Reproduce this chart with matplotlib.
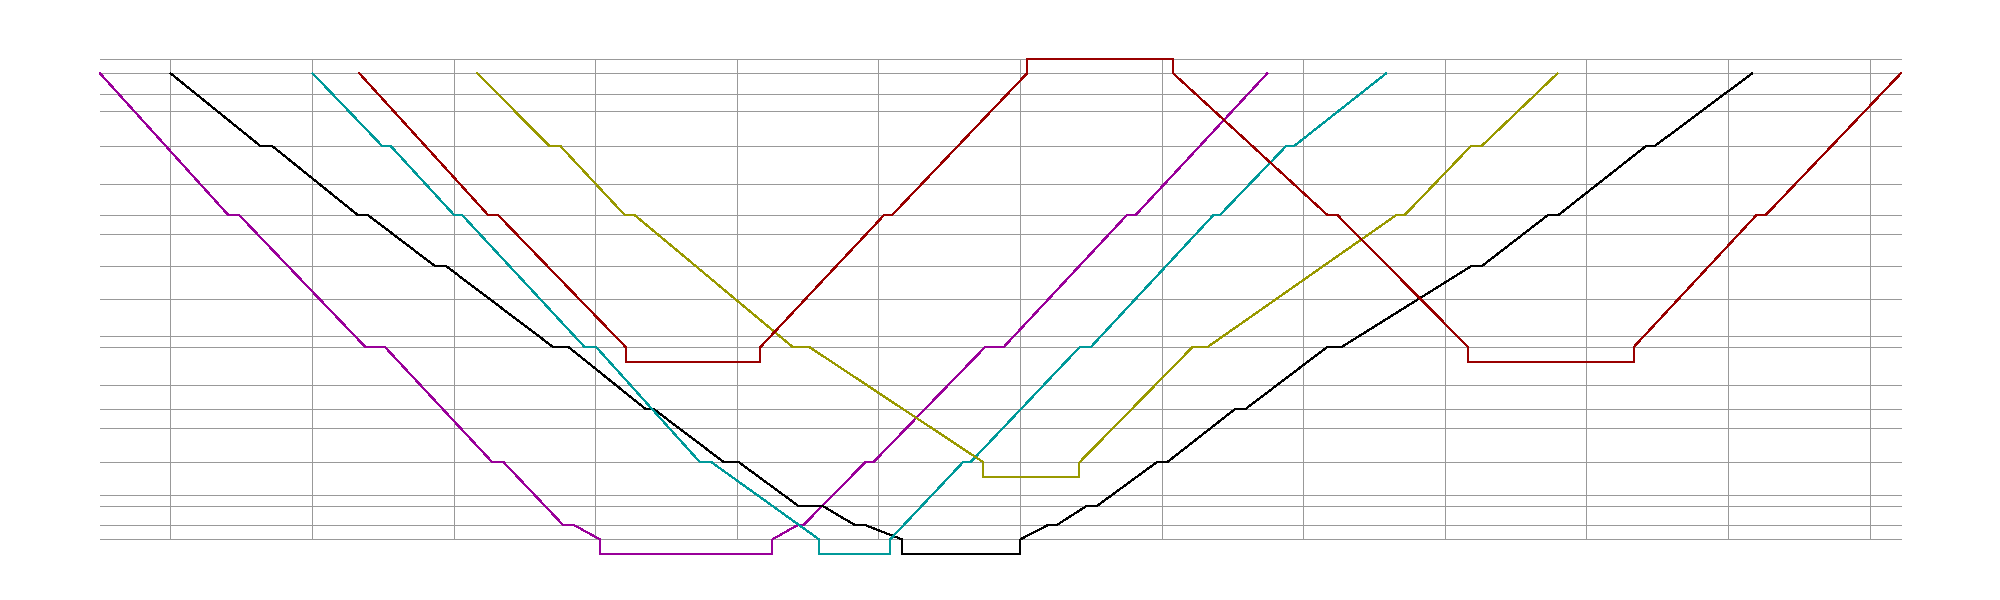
import matplotlib
matplotlib.use("Agg")
import matplotlib.pyplot as plt

# ---- data -------------------------------------------------------------
# station positions (distance along the line, arbitrary units, top = 0)
stations = [0, 21, 38, 72.7, 110.7, 142, 161, 193, 225.7, 263, 274,
            312, 336, 355, 389, 422, 433, 452, 466]
top_level = -14            # upper reversing level (drawn as a line)
hour_ticks = [0, 60, 120, 180, 240, 300, 360, 420, 480, 540, 600, 660, 720]
t_start, t_end = -29.9, 733.3   # time span of the diagram (minutes)

magenta_t = [-29.9, 24.6, 29.2, 82.7, 91.0, 136.4, 141.2, 166.5, 171.2,
             181.9, 181.9, 255.1, 255.1, 265.6, 268.1, 294.4, 297.8,
             345.1, 353.0, 405.2, 408.9, 464.8]
magenta_d = [0, 142, 142, 274, 274, 389, 389, 452, 452, 466, 481, 481,
             466, 452, 452, 389, 389, 274, 274, 142, 142, 0]

black_t = [0.0, 38.1, 43.1, 79.5, 83.8, 112.2, 116.9, 162.3, 168.8,
           201.5, 204.9, 234.6, 240.9, 266.3, 276.6, 290.2, 294.6,
           309.9, 309.9, 360.2, 360.2, 371.6, 375.4, 388.0, 392.4,
           417.9, 422.3, 451.0, 455.4, 490.0, 496.1, 551.1, 555.6,
           583.6, 588.0, 625.3, 629.0, 670.3]
black_d = [0, 72.7, 72.7, 142, 142, 193, 193, 274, 274, 336, 336, 389,
           389, 433, 433, 452, 452, 466, 481, 481, 466, 452, 452, 433,
           433, 389, 389, 336, 336, 274, 274, 193, 193, 142, 142, 72.7,
           72.7, 0]

cyan_t = [60.2, 89.7, 93.3, 120.3, 123.7, 175.6, 180.5, 224.4, 229.3,
          274.8, 274.8, 305.0, 305.0, 335.8, 339.0, 385.2, 389.9,
          441.9, 444.6, 472.8, 476.2, 515.2]
cyan_d = [0, 72.7, 72.7, 142, 142, 274, 274, 389, 389, 466, 481, 481,
          466, 389, 389, 274, 274, 142, 142, 72.7, 72.7, 0]

red_t = [80.0, 134.7, 138.9, 193.0, 193.0, 249.9, 249.9, 302.3, 305.7,
         363.0, 363.0, 424.9, 424.9, 490.4, 494.6, 550.0, 550.0, 620.0,
         620.0, 672.0, 675.9, 733.3]
red_d = [0, 142, 142, 274, 289, 289, 274, 142, 142, 0, -14, -14, 0,
         142, 142, 274, 289, 289, 274, 142, 142, 0]

olive_t = [130.0, 160.6, 165.2, 192.6, 196.8, 263.8, 270.9, 344.5,
           344.5, 385.2, 385.2, 433.0, 439.3, 519.3, 522.9, 551.1,
           555.6, 587.8]
olive_d = [0, 72.7, 72.7, 142, 142, 274, 274, 389, 404, 404, 389, 274,
           274, 142, 142, 72.7, 72.7, 0]

trains = [
    (magenta_t, magenta_d, "#990099"),
    (black_t, black_d, "#000000"),
    (cyan_t, cyan_d, "#009999"),
    (olive_t, olive_d, "#999900"),
    (red_t, red_d, "#990000"),
]

# ---- figure -----------------------------------------------------------
fig = plt.figure(figsize=(20, 6), dpi=100)
ax = fig.add_axes([0, 0, 1, 1])
ax.set_xlim(-72.25, 775.3)
ax.set_ylim(526.7, -73.3)
ax.axis("off")

grid_col = "#999999"
ax.hlines([top_level] + stations, t_start, t_end, colors=grid_col,
          linewidth=0.72, antialiased=False, zorder=1)
ax.vlines(hour_ticks, top_level, stations[-1], colors=grid_col,
          linewidth=0.72, antialiased=False, zorder=1)

for t, d, c in trains:
    ax.plot(t, d, color=c, linewidth=0.72, antialiased=False, zorder=3,
            solid_joinstyle="miter")

fig.savefig("out.png", dpi=100, facecolor="white")
